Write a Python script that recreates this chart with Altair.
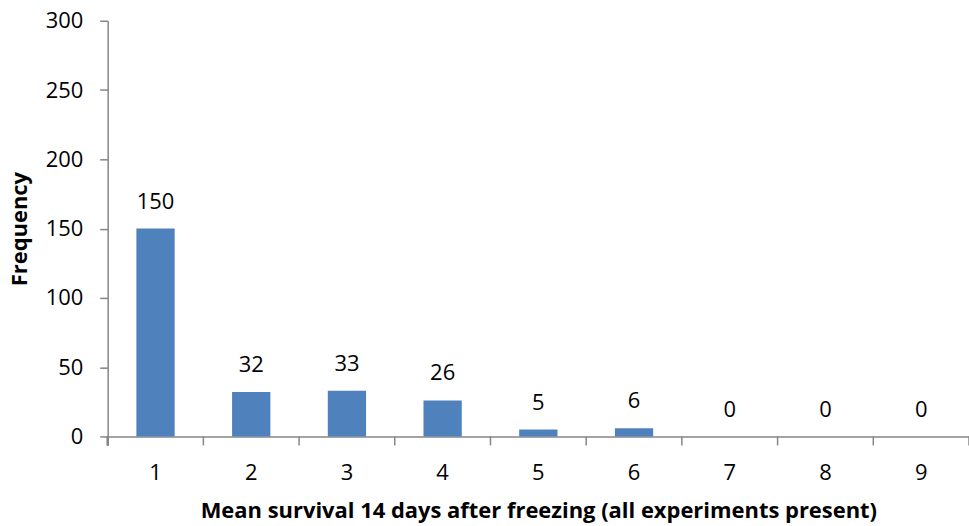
import altair as alt
import pandas as pd

categories = ["1", "2", "3", "4", "5", "6", "7", "8", "9"]
frequencies = [150, 32, 33, 26, 5, 6, 0, 0, 0]

df = pd.DataFrame({"cat": categories, "freq": frequencies})

FONT = "Open Sans"
FS = 22
W, H = 864, 417

x_enc = alt.X(
    "cat:O",
    sort=categories,
    scale=alt.Scale(paddingInner=0.6, paddingOuter=0.3),
    axis=alt.Axis(
        title="Mean survival 14 days after freezing (all experiments present)",
        labelAngle=0,
        ticks=False,
        domainColor="#868686",
        domainWidth=1.5,
        labelFontSize=FS,
        labelFont=FONT,
        labelColor="#000000",
        labelPadding=26,
        titleFont=FONT,
        titleFontSize=FS,
        titleFontWeight="bold",
        titleColor="#000000",
        titlePadding=17,
    ),
)

y_enc = alt.Y(
    "freq:Q",
    scale=alt.Scale(domain=[0, 300], nice=False),
    axis=alt.Axis(
        title="Frequency",
        values=[0, 50, 100, 150, 200, 250, 300],
        grid=False,
        domainColor="#868686",
        domainWidth=1.5,
        tickColor="#868686",
        tickSize=8,
        tickWidth=1.5,
        labelFontSize=FS,
        labelFont=FONT,
        labelColor="#000000",
        labelPadding=17,
        titleFont=FONT,
        titleFontSize=FS,
        titleFontWeight="bold",
        titleColor="#000000",
        titlePadding=14,
    ),
)

base = alt.Chart(df)

bars = base.mark_bar(color="#4F81BD").encode(x=x_enc, y=y_enc)

labels = base.mark_text(
    baseline="bottom", dy=-15, fontSize=FS, font=FONT, color="#000000"
).encode(x=alt.X("cat:O", sort=categories), y="freq:Q", text="freq:Q")

ticks = base.mark_rule(color="#868686", strokeWidth=1.5).encode(
    x=alt.X(
        "cat:O",
        sort=categories,
        bandPosition=1,
        scale=alt.Scale(type="band", paddingInner=0, paddingOuter=0),
        axis=None,
    ),
    y=alt.value(H),
    y2=alt.value(H + 9),
)

first_tick = base.mark_rule(color="#868686", strokeWidth=1.5).encode(
    x=alt.value(0),
    y=alt.value(H),
    y2=alt.value(H + 9),
)

chart = (
    alt.layer(alt.layer(bars, labels), ticks, first_tick)
    .resolve_scale(x="independent")
    .properties(
        width=W,
        height=H,
        autosize=alt.AutoSizeParams(type="none"),
        padding={"left": 108, "top": 20, "right": 0, "bottom": 89},
        background="#ffffff",
    )
    .configure_view(stroke=None)
)

chart.save("out.html", embed_options={"renderer": "svg", "actions": False})
